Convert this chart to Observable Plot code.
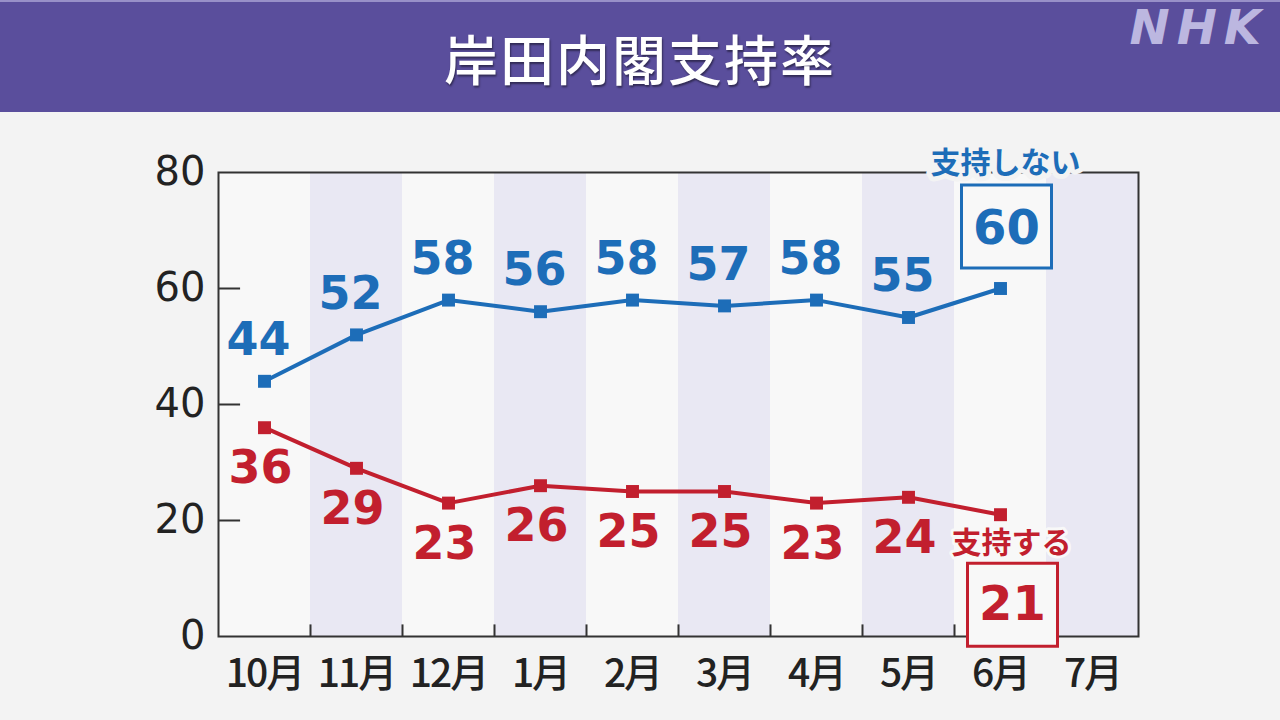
<!DOCTYPE html>
<html><head><meta charset="utf-8">
<script src="https://cdn.jsdelivr.net/npm/d3@7"></script>
<script src="https://cdn.jsdelivr.net/npm/@observablehq/plot@0.6"></script>
<style>
html,body{margin:0;padding:0;}
body{background:#f3f3f3;width:1280px;height:720px;overflow:hidden;font-family:"Noto Sans CJK JP",sans-serif;}
#header{position:relative;height:112px;background:#5a4e9c;border-top:2px solid #9890c8;box-sizing:border-box;}
#title{position:absolute;left:0;right:0;top:18px;text-align:center;color:#fff;font-size:54px;font-weight:500;letter-spacing:2px;line-height:76px;text-shadow:1px 2px 2px rgba(0,0,0,0.45);}
#logo{position:absolute;right:12px;top:-3px;line-height:48px;color:#bcb7e0;font:italic bold 48px "DejaVu Sans",sans-serif;letter-spacing:7px;}
#chart svg{display:block;}
.months text{letter-spacing:-2px;}
</style>
</head><body>
<div id="header"><div id="title">岸田内閣支持率</div><div id="logo">NHK</div></div>
<div id="chart"></div>
<script>
const months = ["10月","11月","12月","1月","2月","3月","4月","5月","6月","7月"];
const oppose = [44,52,58,56,58,57,58,55,60];
const support = [36,29,23,26,25,25,23,24,21];
const yTicks = [0,20,40,60,80];
const seriesNames = ["支持しない","支持する"];
const seriesColors = ["#1d6db8","#c21f2e"];

const blue = seriesColors[0], red = seriesColors[1];
const rowsOppose = oppose.map((v,i)=>({i, value:v, series:seriesNames[0]}));
const rowsSupport = support.map((v,i)=>({i, value:v, series:seriesNames[1]}));
const rows = rowsOppose.concat(rowsSupport);
const last = oppose.length - 1;
const bands = months.map((m,i)=>({i, m}));
const bounds = months.slice(1).map((m,i)=>i+0.5);

const boxSymbol = {draw(ctx){ const w=45, h=41.5; ctx.moveTo(-w,-h); ctx.lineTo(w,-h); ctx.lineTo(w,h); ctx.lineTo(-w,h); ctx.closePath(); }};
const numFont = "DejaVu Sans, sans-serif";
const jpFont = "Noto Sans CJK JP, sans-serif";

const chart = Plot.plot({
  width:1280, height:608,
  marginTop:60, marginBottom:84, marginLeft:218, marginRight:142,
  style:{background:"transparent", fontFamily:jpFont},
  x:{type:"linear", domain:[-0.5, months.length-0.5], axis:null},
  y:{domain:[0,80], axis:null},
  marks:[
    Plot.rect(bands, {x1:d=>d.i-0.5, x2:d=>d.i+0.5, fill:d=>d.i%2 ? "#e9e8f3" : "#f8f8f8"}),
    Plot.frame({stroke:"#333", strokeWidth:2}),
    Plot.ruleY(yTicks.filter(v=>v>0 && v<80), {x1:-0.5, x2:-0.26, stroke:"#333", strokeWidth:2}),
    Plot.ruleX(bounds, {y1:0, y2:2, stroke:"#333", strokeWidth:2}),
    Plot.text(yTicks, {y:d=>d, text:d=>String(d), frameAnchor:"left", textAnchor:"end", lineAnchor:"middle", dx:-13, fontSize:40, fontFamily:numFont, fill:"#222"}),
    Plot.text(months, {x:(d,i)=>i, text:d=>d, frameAnchor:"bottom", lineAnchor:"middle", dy:38, fontSize:39, fontWeight:500, fill:"#222", className:"months"}),
    Plot.line(rows, {x:"i", y:"value", z:"series", stroke:d=>d.series===seriesNames[0]?blue:red, strokeWidth:4}),
    Plot.dot(rows, {x:"i", y:"value", symbol:"square", r:7.3, fill:d=>d.series===seriesNames[0]?blue:red}),
    Plot.text(rowsOppose.filter(d=>d.i<last), {x:"i", y:"value", text:d=>String(d.value), dx:-6, dy:-41, fontSize:46, fontWeight:"bold", fontFamily:numFont, fill:blue}),
    Plot.text(rowsSupport.filter(d=>d.i<last), {x:"i", y:"value", text:d=>String(d.value), dx:-4, dy:41, fontSize:46, fontWeight:"bold", fontFamily:numFont, fill:red}),
    Plot.dot([rowsOppose[last]], {x:"i", y:"value", symbol:boxSymbol, dx:6, dy:-62, stroke:blue, strokeWidth:3, fill:"#f8f8f8"}),
    Plot.text([rowsOppose[last]], {x:"i", y:"value", text:d=>String(d.value), dx:6, dy:-60, fontSize:48, fontWeight:"bold", fontFamily:numFont, fill:blue}),
    Plot.dot([rowsSupport[last]], {x:"i", y:"value", symbol:boxSymbol, dx:12, dy:90, stroke:red, strokeWidth:3, fill:"#f8f8f8"}),
    Plot.text([rowsSupport[last]], {x:"i", y:"value", text:d=>String(d.value), dx:12, dy:90, fontSize:48, fontWeight:"bold", fontFamily:numFont, fill:red}),
    Plot.text([rowsOppose[last]], {x:"i", y:"value", text:d=>d.series, dx:5, dy:-125, fontSize:30, fontWeight:"bold", fill:blue, stroke:"#f3f3f3", strokeWidth:10}),
    Plot.text([rowsSupport[last]], {x:"i", y:"value", text:d=>d.series, dx:11, dy:29, fontSize:30, fontWeight:"bold", fill:red, stroke:"#f8f8f8", strokeWidth:6})
  ]
});
document.getElementById("chart").appendChild(chart);
</script>
</body></html>
